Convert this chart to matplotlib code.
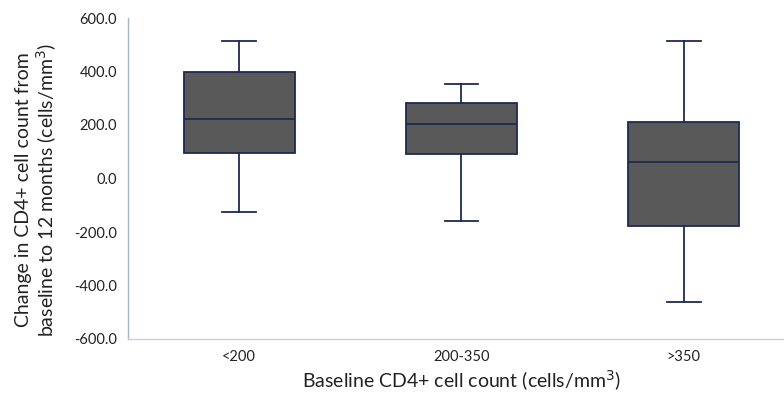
import matplotlib
matplotlib.use("Agg")
import matplotlib.pyplot as plt

categories = ["<200", "200-350", ">350"]
whisker_low = [-126, -158, -460]
q1 = [97, 90, -176]
median = [222, 204, 60]
q3 = [399, 283, 212]
whisker_high = [515, 353, 515]
yticks = [-600, -400, -200, 0, 200, 400, 600]

plt.rcParams['font.family'] = ['Lato', 'DejaVu Sans']

fig = plt.figure(figsize=(7.84, 4.08), dpi=100)
ax = fig.add_axes([128/784, 69/408, 667/784, 321/408])

stats = []
for i, c in enumerate(categories):
    stats.append(dict(label=c, whislo=whisker_low[i], q1=q1[i], med=median[i],
                      q3=q3[i], whishi=whisker_high[i], fliers=[]))

edge = "#1f2a4f"
ax.bxp(stats, positions=[0.5, 1.5, 2.5], widths=0.5, patch_artist=True,
       showfliers=False,
       boxprops=dict(facecolor="#595959", edgecolor=edge, linewidth=1.3),
       medianprops=dict(color=edge, linewidth=1.3),
       whiskerprops=dict(color=edge, linewidth=1.3),
       capprops=dict(color=edge, linewidth=1.3),
       capwidths=0.15)

ax.set_xlim(0, 3)
ax.set_ylim(-600, 600)
ax.set_yticks(yticks)
ax.set_yticklabels([f"{v:.1f}" for v in yticks], fontsize=10.5, color="#222222")
ax.set_xticks([0.5, 1.5, 2.5])
ax.set_xticklabels(categories, fontsize=10.5, color="#222222")
ax.tick_params(length=0)
ax.tick_params(axis='y', pad=8)
ax.tick_params(axis='x', pad=8)

for s in ["top", "right"]:
    ax.spines[s].set_visible(False)
ax.spines["left"].set_color("#a8b4c4")
ax.spines["bottom"].set_color("#d0d0d0")
ax.spines["left"].set_linewidth(1.0)
ax.spines["bottom"].set_linewidth(1.0)

fig.text(37/784, 1 - 190/408,
         "Change in CD4+ cell count from\nbaseline to 12 months (cells/mm$^3$)",
         rotation=90, ha="center", va="center", fontsize=14, color="#222222",
         linespacing=1.15)
fig.text(462/784, 1 - 381/408, "Baseline CD4+ cell count (cells/mm$^3$)",
         ha="center", va="center", fontsize=14, color="#222222")

fig.savefig("out.png", dpi=100)
